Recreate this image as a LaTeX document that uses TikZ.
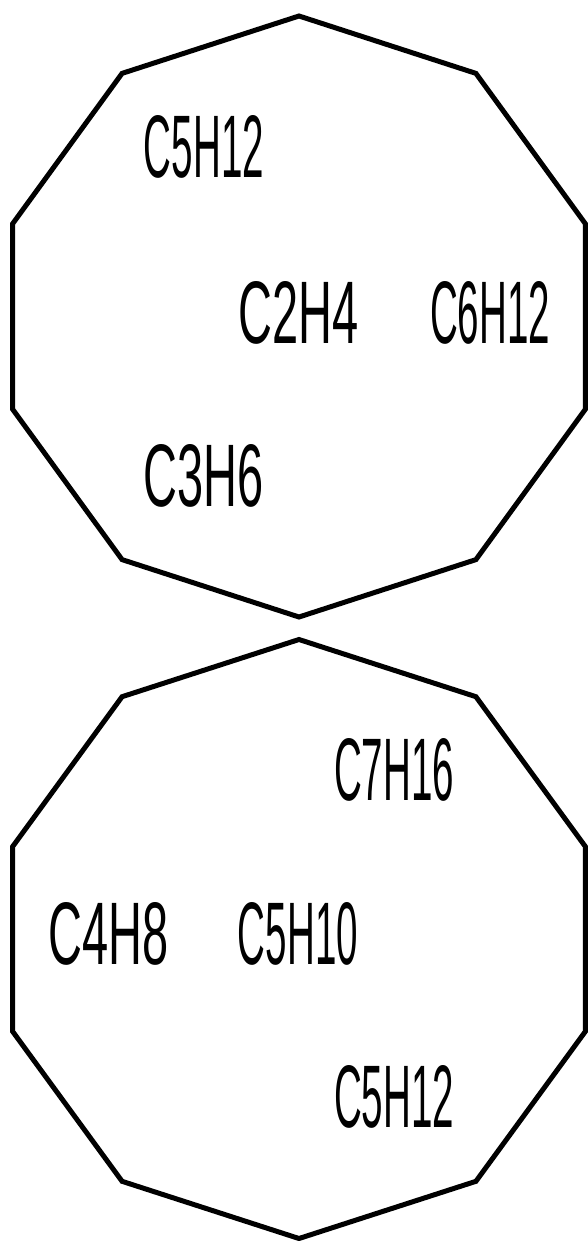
\documentclass[tikz,border=0pt]{standalone}
\usepackage{fontspec}
\usepackage{graphicx}
\newfontfamily\labfont{Liberation Sans}
\newcommand{\fitlab}[1]{\resizebox{120pt}{62pt}{\labfont #1}}
\begin{document}
\begin{tikzpicture}[x=1pt,y=-1pt,
  deca/.style={draw=black,line width=5pt,line join=miter},
  lbl/.style={inner sep=0pt,anchor=center}]
\useasboundingbox[fill=white] (0,0) rectangle (587,1241);
\coordinate (ctop) at (299,316.5);
\coordinate (cbot) at (299,939);
\begin{scope}[shift={(ctop)}]
\draw[deca] (90:301 and 300.5) \foreach \a in {126,162,...,414}{ -- (\a:301 and 300.5)} -- cycle;
\end{scope}
\begin{scope}[shift={(cbot)}]
\draw[deca] (90:301 and 299.5) \foreach \a in {126,162,...,414}{ -- (\a:301 and 299.5)} -- cycle;
\end{scope}
\node[lbl] (t1) at (204,147) {\fitlab{C5H12}};
\node[lbl] (t2) at (299,312.5) {\fitlab{C2H4}};
\node[lbl] (t3) at (490,312.5) {\fitlab{C6H12}};
\node[lbl] (t4) at (204,476) {\fitlab{C3H6}};
\node[lbl] (b1) at (394,770) {\fitlab{C7H16}};
\node[lbl] (b2) at (109,934) {\fitlab{C4H8}};
\node[lbl] (b3) at (298,934) {\fitlab{C5H10}};
\node[lbl] (b4) at (394,1097) {\fitlab{C5H12}};
\end{tikzpicture}
\end{document}
